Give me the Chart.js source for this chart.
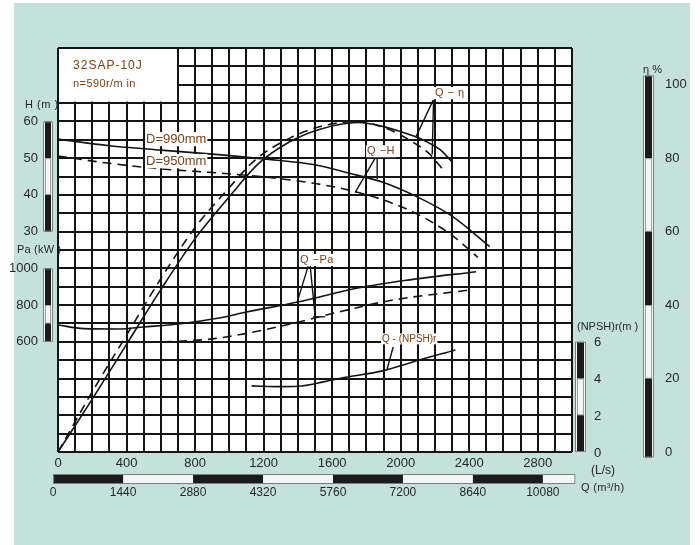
<!DOCTYPE html>
<html>
<head>
<meta charset="utf-8">
<script src="https://cdn.jsdelivr.net/npm/chart.js@4.4.1/dist/chart.umd.min.js"></script>
<style>
    html, body { margin: 0; padding: 0; background: #fff; }
    #frame { position: absolute; left: 14px; top: 3px; width: 676px; height: 542px; background: #c4e1db; }
    #wrap { position: absolute; left: 0; top: 0; width: 700px; height: 545px; }
</style>
</head>
<body>
<div id="frame"></div>
<div id="wrap"><canvas id="pumpChart" width="700" height="545"></canvas></div>
<script>
// tick labels
const flowTicks = [0, 400, 800, 1200, 1600, 2000, 2400, 2800];          // L/s
const flowM3Ticks = [0, 1440, 2880, 4320, 5760, 7200, 8640, 10080];     // m3/h
const headTicks = [30, 40, 50, 60];
const powerTicks = [600, 800, 1000];
const npshTicks = [0, 2, 4, 6];
const effTicks = [0, 20, 40, 60, 80, 100];

// Q-H
const qHead990 = [0, 300, 600, 900, 1200, 1500, 1700, 1900, 2100, 2300, 2520];
const head990 = [55.2, 53.4, 52.2, 51.1, 49.8, 48.2, 45.9, 43.4, 39.4, 34.2, 25.9];
const qHead950 = [0, 300, 600, 900, 1200, 1500, 1700, 1900, 2100, 2300, 2450];
const head950 = [50.6, 48.6, 47.1, 46.1, 44.9, 43.1, 41.3, 38.6, 34.7, 29.0, 23.0];

// Q-eta
const qEff990 = [0, 200, 400, 600, 800, 1000, 1170, 1350, 1530, 1750, 1900, 2000, 2120, 2230, 2300];
const eff990 = [0, 14.4, 29.3, 44.2, 58.1, 69.5, 78.5, 84.4, 87.9, 89.7, 88.6, 87.2, 85.2, 82.3, 79.0];
const qEff950 = [0, 200, 400, 600, 800, 1000, 1150, 1350, 1530, 1750, 1900, 2000, 2080, 2160, 2240];
const eff950 = [0, 16.4, 31.8, 47.2, 61.1, 72.0, 79.5, 85.4, 88.6, 90.0, 88.4, 86.3, 84.1, 81.5, 77.3];

// Q-Pa
const qPower990 = [0, 150, 350, 500, 730, 930, 1100, 1400, 1750, 2040, 2440];
const power990 = [692, 672, 670, 681, 700, 728, 762, 817, 893, 936, 982];
const qPower950 = [0, 400, 730, 900, 1100, 1400, 1650, 1940, 2400];
const power950 = [599, 599, 604, 616, 646, 707, 765, 825, 882];

// Q-(NPSH)r
const qNpsh = [1130, 1300, 1400, 1550, 1650, 1900, 2075, 2320];
const npshValues = [3.6, 3.56, 3.58, 3.82, 4.02, 4.43, 4.92, 5.56];

// scale bar segment stops (alternating dark / light from the first)
const headBarStops = [60, 50, 40, 30];
const powerBarStops = [1000, 800, 700, 600];
const npshBarStops = [6, 4, 2, 0];
const effBarStops = [102.5, 80, 60, 40, 20, -1.5];
const flowM3BarStops = [0, 1440, 2880, 4320, 5760, 7200, 8640, 10080, 10750];

// curve labels, placed in (Q, eta-grid) units
const curveLabels = [
    { text: 'D=990mm', q: 514, e: 85.2, size: 13, spacing: 0 },
    { text: 'D=950mm', q: 514, e: 79.2, size: 13, spacing: 0 },
    { text: 'Q − η', q: 2200, e: 97.7, size: 11, spacing: 0.5 },
    { text: 'Q −H', q: 1804, e: 81.9, size: 11, spacing: 0.5 },
    { text: 'Q −Pa', q: 1412, e: 52.3, size: 11, spacing: 0.5 },
    { text: 'Q - (NPSH)r', q: 1891, e: 30.8, size: 10, spacing: 0 }
];
const leaderLines = [
    [[2190, 95.8], [2091, 86.0]],
    [[2192, 95.8], [2184, 81.0]],
    [[1851, 80.0], [1734, 70.6]],
    [[1863, 80.0], [1863, 74.3]],
    [[1460, 50.6], [1396, 40.8]],
    [[1472, 50.6], [1501, 36.8]],
    [[1489, 36.8], [1559, 36.8]],
    [[1956, 28.6], [1921, 22.6]]
];

const pts = (xs, ys) => xs.map((x, i) => ({ x: x, y: ys[i] }));

const INK = '#141414';
const BROWN = '#7a4216';
const TICK = '#262626';

function curve(label, xs, ys, axis, dashed) {
    return {
        label: label,
        data: pts(xs, ys),
        yAxisID: axis,
        borderColor: INK,
        borderWidth: 1.6,
        borderDash: dashed ? [9, 6] : [],
        pointRadius: 0,
        fill: false,
        cubicInterpolationMode: 'monotone'
    };
}

function vBar(ctx, scale, left, width, stops) {
    const top = scale.getPixelForValue(stops[0]);
    const bot = scale.getPixelForValue(stops[stops.length - 1]);
    ctx.fillStyle = '#f3f6f5';
    ctx.fillRect(left, top, width, bot - top);
    for (let i = 0; i < stops.length - 1; i++) {
        const y0 = scale.getPixelForValue(stops[i]);
        const y1 = scale.getPixelForValue(stops[i + 1]);
        if (i % 2 === 0) {
            ctx.fillStyle = '#1b1b1b';
            ctx.fillRect(left + 2, y0, width - 4, y1 - y0);
        } else {
            ctx.strokeStyle = '#9aa3a1';
            ctx.lineWidth = 1;
            ctx.strokeRect(left + 2.5, y0 + 0.5, width - 5, y1 - y0 - 1);
        }
    }
    ctx.strokeStyle = '#7d7d7d';
    ctx.lineWidth = 1;
    ctx.strokeRect(left + 0.5, top + 0.5, width - 1, bot - top - 1);
}

function hBar(ctx, scale, top, height, stops) {
    const l = scale.getPixelForValue(stops[0]);
    const r = scale.getPixelForValue(stops[stops.length - 1]);
    ctx.fillStyle = '#f3f6f5';
    ctx.fillRect(l, top, r - l, height);
    for (let i = 0; i < stops.length - 1; i++) {
        if (i % 2 !== 0) continue;
        const x0 = scale.getPixelForValue(stops[i]);
        const x1 = scale.getPixelForValue(stops[i + 1]);
        ctx.fillStyle = '#1b1b1b';
        ctx.fillRect(x0, top, x1 - x0, height);
    }
    ctx.strokeStyle = '#7d7d7d';
    ctx.lineWidth = 1;
    ctx.strokeRect(l + 0.5, top + 0.5, r - l - 1, height - 1);
}

function text(ctx, str, x, y, font, color, align, spacing) {
    ctx.font = font;
    ctx.fillStyle = color;
    ctx.textAlign = align || 'left';
    ctx.textBaseline = 'middle';
    ctx.letterSpacing = (spacing || 0) + 'px';
    ctx.fillText(str, x, y);
    ctx.letterSpacing = '0px';
}

const decor = {
    id: 'decor',
    beforeDatasetsDraw(chart) {
        const { ctx, chartArea: a, scales } = chart;
        const xs = scales.x, es = scales.yEta;
        ctx.save();
        ctx.fillStyle = '#fff';
        ctx.fillRect(a.left, a.top, a.right - a.left, a.bottom - a.top);

        // grid: 100 L/s by 5 % cells
        ctx.strokeStyle = INK;
        ctx.lineWidth = 2;
        ctx.beginPath();
        for (let q = 0; q <= 3000; q += 100) {
            const px = Math.round(xs.getPixelForValue(q));
            ctx.moveTo(px, a.top);
            ctx.lineTo(px, a.bottom);
        }
        for (let v = 0; v <= 110; v += 5) {
            const py = Math.round(es.getPixelForValue(v));
            ctx.moveTo(a.left, py);
            ctx.lineTo(a.right, py);
        }
        ctx.stroke();

        // title box
        const bx0 = xs.getPixelForValue(0) + 1, bx1 = xs.getPixelForValue(700) - 1;
        const by0 = es.getPixelForValue(110) + 1, by1 = es.getPixelForValue(95.4);
        ctx.fillStyle = '#fff';
        ctx.fillRect(bx0, by0, bx1 - bx0, by1 - by0);
        text(ctx, '32SAP-10J', xs.getPixelForValue(88), es.getPixelForValue(105.1), '12px "Liberation Sans", Arial, sans-serif', BROWN, 'left', 1);
        text(ctx, 'n=590r/m in', xs.getPixelForValue(88), es.getPixelForValue(100.2), '11px "Liberation Sans", Arial, sans-serif', BROWN, 'left', 0.4);
        ctx.restore();
    },
    afterDatasetsDraw(chart) {
        const { ctx, scales } = chart;
        const xs = scales.x, es = scales.yEta;
        ctx.save();
        ctx.strokeStyle = INK;
        ctx.lineWidth = 1.4;
        leaderLines.forEach(seg => {
            ctx.beginPath();
            ctx.moveTo(xs.getPixelForValue(seg[0][0]), es.getPixelForValue(seg[0][1]));
            ctx.lineTo(xs.getPixelForValue(seg[1][0]), es.getPixelForValue(seg[1][1]));
            ctx.stroke();
        });
        curveLabels.forEach(l => {
            const font = l.size + 'px "Liberation Sans", Arial, sans-serif';
            ctx.font = font;
            ctx.letterSpacing = l.spacing + 'px';
            const w = ctx.measureText(l.text).width;
            ctx.letterSpacing = '0px';
            const x = xs.getPixelForValue(l.q), y = es.getPixelForValue(l.e);
            ctx.fillStyle = '#fff';
            ctx.fillRect(x - 1, y - l.size * 0.55, w + 2, l.size * 1.1);
            text(ctx, l.text, x, y, font, BROWN, 'left', l.spacing);
        });
        ctx.restore();
    },
    afterDraw(chart) {
        const { ctx, scales } = chart;
        const tickFont = '13px "Liberation Sans", Arial, sans-serif';
        const titleFont = '11px "Liberation Sans", Arial, sans-serif';
        const narrowFont = '11px "Liberation Sans Narrow", "Liberation Sans", Arial, sans-serif';
        ctx.save();

        // left scales
        vBar(ctx, scales.yH, 43, 10, headBarStops);
        headTicks.forEach(v => text(ctx, String(v), 38, scales.yH.getPixelForValue(v), tickFont, TICK, 'right'));
        text(ctx, 'H (m )', 25, 105, titleFont, TICK, 'left', 0.5);

        vBar(ctx, scales.yPa, 43, 10, powerBarStops);
        powerTicks.forEach(v => text(ctx, String(v), 38, scales.yPa.getPixelForValue(v), tickFont, TICK, 'right'));
        text(ctx, 'Pa (kW )', 17, 250, titleFont, TICK, 'left', 0.2);

        // right scales
        vBar(ctx, scales.yN, 575, 11, npshBarStops);
        npshTicks.forEach(v => text(ctx, String(v), 594, scales.yN.getPixelForValue(v) + 1, tickFont, TICK, 'left'));
        text(ctx, '(NPSH)r(m )', 577, 327, narrowFont, TICK, 'left', 0);

        vBar(ctx, scales.yEta, 643, 11, effBarStops);
        effTicks.forEach(v => text(ctx, String(v), 665, scales.yEta.getPixelForValue(v), tickFont, TICK, 'left'));
        text(ctx, 'η %', 643, 70, titleFont, TICK, 'left', 0);

        // bottom scales
        flowTicks.forEach(v => text(ctx, String(v), scales.x.getPixelForValue(v), 463, tickFont, TICK, 'center'));
        hBar(ctx, scales.xM3, 474, 10, flowM3BarStops);
        flowM3Ticks.forEach(v => text(ctx, String(v), scales.xM3.getPixelForValue(v), 493, '12px "Liberation Sans", Arial, sans-serif', TICK, 'center'));
        text(ctx, '(L/s)', 591, 471, '12px "Liberation Sans", Arial, sans-serif', TICK, 'left');
        text(ctx, 'Q (m³/h)', 581, 488, narrowFont, TICK, 'left', 0.3);
        ctx.restore();
    }
};

new Chart(document.getElementById('pumpChart'), {
    type: 'line',
    data: {
        datasets: [
            curve('Q-H D=990mm', qHead990, head990, 'yH', false),
            curve('Q-H D=950mm', qHead950, head950, 'yH', true),
            curve('Q-η D=990mm', qEff990, eff990, 'yEta', false),
            curve('Q-η D=950mm', qEff950, eff950, 'yEta', true),
            curve('Q-Pa D=990mm', qPower990, power990, 'yPa', false),
            curve('Q-Pa D=950mm', qPower950, power950, 'yPa', true),
            curve('Q-(NPSH)r', qNpsh, npshValues, 'yN', false)
        ]
    },
    options: {
        responsive: false,
        animation: false,
        events: [],
        layout: { padding: { left: 58, right: 128, top: 48, bottom: 93 } },
        plugins: { legend: { display: false }, tooltip: { enabled: false } },
        scales: {
            x: { type: 'linear', min: 0, max: 3000, display: false },
            xM3: { type: 'linear', axis: 'x', min: 100, max: 10680, display: false },
            yEta: { type: 'linear', min: 0, max: 110, display: false },
            yH: { type: 'linear', min: -30, max: 80, display: false },
            yPa: { type: 'linear', min: 0, max: 2200, display: false },
            yN: { type: 'linear', min: 0, max: 22, display: false }
        }
    },
    plugins: [decor]
});
</script>
</body>
</html>
